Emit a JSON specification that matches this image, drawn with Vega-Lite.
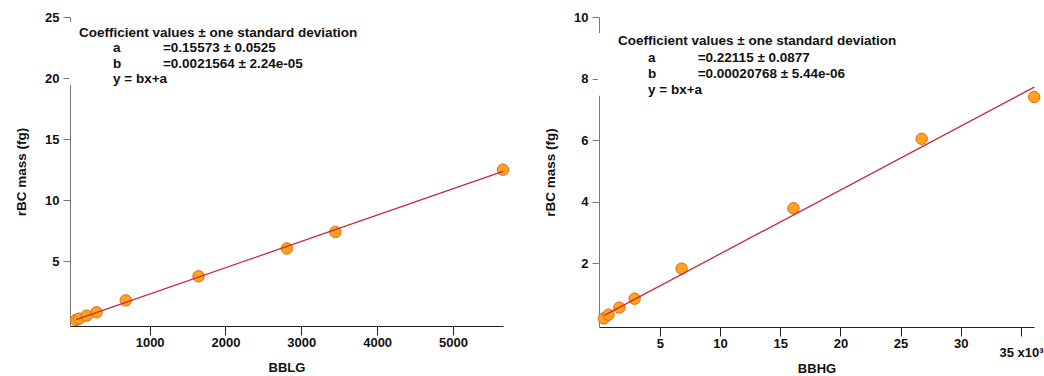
{
  "$schema": "https://vega.github.io/schema/vega-lite/v6.json",
  "padding": {"left": 14, "top": 11, "right": 0, "bottom": 0},
  "background": "white",
  "config": {
    "view": {"stroke": null},
    "font": "Liberation Sans",
    "axisX": {"domainColor": "#222", "tickColor": "#222", "tickSize": 9, "labelPadding": 1, "titlePadding": 12, "labelFontSize": 13, "labelFontWeight": "bold", "titleFontSize": 13, "titleFontWeight": "bold", "grid": false, "labelColor": "#111", "titleColor": "#111", "labelFont": "Liberation Sans", "titleFont": "Liberation Sans"},
    "axisY": {"domainColor": "#777", "tickColor": "#777", "tickSize": 7, "labelPadding": 4, "titlePadding": 16, "labelFontSize": 13, "labelFontWeight": "bold", "titleFontSize": 13.5, "titleFontWeight": "bold", "grid": false, "labelColor": "#111", "titleColor": "#111", "labelFont": "Liberation Sans", "titleFont": "Liberation Sans"}
  },
  "datasets": {
    "lg": [
      {"BBLG": 30, "rBC": 0.2}, {"BBLG": 70, "rBC": 0.3}, {"BBLG": 170, "rBC": 0.55}, {"BBLG": 300, "rBC": 0.82},
      {"BBLG": 685, "rBC": 1.8}, {"BBLG": 1645, "rBC": 3.77}, {"BBLG": 2810, "rBC": 6.05}, {"BBLG": 3450, "rBC": 7.4}, {"BBLG": 5660, "rBC": 12.5}
    ],
    "lgfit": [{"BBLG": 30, "rBC": 0.22}, {"BBLG": 5660, "rBC": 12.36}],
    "hg": [
      {"BBHG": 350, "rBC": 0.2}, {"BBHG": 740, "rBC": 0.32}, {"BBHG": 1640, "rBC": 0.55}, {"BBHG": 2910, "rBC": 0.84},
      {"BBHG": 6810, "rBC": 1.82}, {"BBHG": 16100, "rBC": 3.78}, {"BBHG": 26750, "rBC": 6.04}, {"BBHG": 36100, "rBC": 7.4}
    ],
    "hgfit": [{"BBHG": 400, "rBC": 0.3}, {"BBHG": 36100, "rBC": 7.72}]
  },
  "spacing": 32,
  "hconcat": [
    {
      "width": 433,
      "height": 309,
      "layer": [
        {
          "data": {"name": "lg"},
          "mark": {"type": "point", "filled": true, "shape": "circle", "size": 130, "fill": "#FFA31F", "stroke": "#E0661A", "strokeWidth": 1, "opacity": 1},
          "encoding": {
            "x": {"field": "BBLG", "type": "quantitative", "title": "BBLG", "scale": {"domain": [-50, 5660], "nice": false, "zero": false}, "axis": {"values": [1000, 2000, 3000, 4000, 5000], "format": "d"}},
            "y": {"field": "rBC", "type": "quantitative", "title": "rBC mass (fg)", "scale": {"domain": [-0.3, 25], "nice": false, "zero": false}, "axis": {"values": [5, 10, 15, 20, 25]}}
          }
        },
        {
          "data": {"name": "lgfit"},
          "mark": {"type": "line", "color": "#C8283C", "strokeWidth": 1.3},
          "encoding": {"x": {"field": "BBLG", "type": "quantitative"}, "y": {"field": "rBC", "type": "quantitative"}}
        },
        {
          "data": {"values": [{}]},
          "mark": {"type": "rect", "fill": "white"},
          "encoding": {"x": {"datum": -63, "type": "quantitative"}, "x2": {"datum": 3853}, "y": {"datum": 24.6, "type": "quantitative"}, "y2": {"datum": 19.43}}
        },
        {
          "data": {"values": [{}]},
          "mark": {"type": "text", "text": "Coefficient values ± one standard deviation", "align": "left", "baseline": "alphabetic", "fontSize": 13.5, "fontWeight": "bold", "font": "Liberation Sans", "color": "#111"},
          "encoding": {"x": {"datum": 69, "type": "quantitative"}, "y": {"datum": 23.4, "type": "quantitative"}}
        },
        {
          "data": {"values": [{}]},
          "mark": {"type": "text", "text": ["a", "b", "y = bx+a"], "lineHeight": 15.5, "align": "left", "baseline": "alphabetic", "fontSize": 13.5, "fontWeight": "bold", "font": "Liberation Sans", "color": "#111"},
          "encoding": {"x": {"datum": 517, "type": "quantitative"}, "y": {"datum": 22.1, "type": "quantitative"}}
        },
        {
          "data": {"values": [{}]},
          "mark": {"type": "text", "text": ["=0.15573 ± 0.0525", "=0.0021564 ± 2.24e-05"], "lineHeight": 15.5, "align": "left", "baseline": "alphabetic", "fontSize": 13.5, "fontWeight": "bold", "font": "Liberation Sans", "color": "#111"},
          "encoding": {"x": {"datum": 1176, "type": "quantitative"}, "y": {"datum": 22.1, "type": "quantitative"}}
        }
      ]
    },
    {
      "width": 435,
      "height": 310,
      "layer": [
        {
          "data": {"name": "hg"},
          "mark": {"type": "point", "filled": true, "shape": "circle", "size": 130, "fill": "#FFA31F", "stroke": "#E0661A", "strokeWidth": 1, "opacity": 1},
          "encoding": {
            "x": {"field": "BBHG", "type": "quantitative", "title": "BBHG", "scale": {"domain": [-50, 36080], "nice": false, "zero": false}, "axis": {"values": [5000, 10000, 15000, 20000, 25000, 30000, 35000], "labelExpr": "datum.value == 35000 ? '35 x10³' : format(datum.value / 1000, 'd')", "labelPadding": {"condition": {"test": "datum.value == 35000", "value": 10}, "value": 1}, "titlePadding": 3}},
            "y": {"field": "rBC", "type": "quantitative", "title": "rBC mass (fg)", "scale": {"domain": [-0.08, 10], "nice": false, "zero": false}, "axis": {"values": [2, 4, 6, 8, 10]}}
          }
        },
        {
          "data": {"name": "hgfit"},
          "mark": {"type": "line", "color": "#C8283C", "strokeWidth": 1.3},
          "encoding": {"x": {"field": "BBHG", "type": "quantitative"}, "y": {"field": "rBC", "type": "quantitative"}}
        },
        {
          "data": {"values": [{}]},
          "mark": {"type": "rect", "fill": "white"},
          "encoding": {"x": {"datum": -133, "type": "quantitative"}, "x2": {"datum": 24870}, "y": {"datum": 9.48, "type": "quantitative"}, "y2": {"datum": 7.44}}
        },
        {
          "data": {"values": [{}]},
          "mark": {"type": "text", "text": "Coefficient values ± one standard deviation", "align": "left", "baseline": "alphabetic", "fontSize": 13.5, "fontWeight": "bold", "font": "Liberation Sans", "color": "#111"},
          "encoding": {"x": {"datum": 1528, "type": "quantitative"}, "y": {"datum": 9.09, "type": "quantitative"}}
        },
        {
          "data": {"values": [{}]},
          "mark": {"type": "text", "text": ["a", "b", "y = bx+a"], "lineHeight": 16, "align": "left", "baseline": "alphabetic", "fontSize": 13.5, "fontWeight": "bold", "font": "Liberation Sans", "color": "#111"},
          "encoding": {"x": {"datum": 4020, "type": "quantitative"}, "y": {"datum": 8.54, "type": "quantitative"}}
        },
        {
          "data": {"values": [{}]},
          "mark": {"type": "text", "text": ["=0.22115 ± 0.0877", "=0.00020768 ± 5.44e-06"], "lineHeight": 16, "align": "left", "baseline": "alphabetic", "fontSize": 13.5, "fontWeight": "bold", "font": "Liberation Sans", "color": "#111"},
          "encoding": {"x": {"datum": 8148, "type": "quantitative"}, "y": {"datum": 8.54, "type": "quantitative"}}
        }
      ]
    }
  ]
}
